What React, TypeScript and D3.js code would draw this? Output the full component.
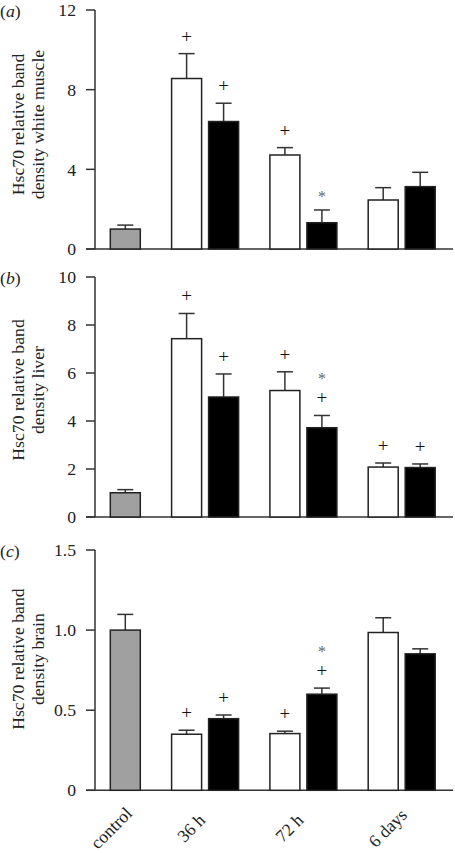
import React from "react";
import * as d3 from "d3";

// ---------- data ----------
const groups = ["control", "36 h", "72 h", "6 days"];
const barGroup = [0, 1, 1, 2, 2, 3, 3];
const barKind = ["control", "white", "black", "white", "black", "white", "black"];

const muscleValues = [1.0, 8.56, 6.4, 4.72, 1.32, 2.46, 3.13];
const muscleErrors = [0.2, 1.25, 0.92, 0.37, 0.64, 0.62, 0.72];
const muscleMarks = ["", "+", "+", "+", "*", "", ""];
const muscleTicks = [0, 4, 8, 12];

const liverValues = [1.01, 7.43, 5.0, 5.27, 3.72, 2.08, 2.06];
const liverErrors = [0.13, 1.05, 0.96, 0.78, 0.51, 0.17, 0.15];
const liverMarks = ["", "+", "+", "+", "+*", "+", "+"];
const liverTicks = [0, 2, 4, 6, 8, 10];

const brainValues = [1.0, 0.35, 0.447, 0.354, 0.6, 0.985, 0.852];
const brainErrors = [0.098, 0.025, 0.023, 0.015, 0.038, 0.092, 0.031];
const brainMarks = ["", "+", "+", "+", "+*", "", ""];
const brainTicks = [0, 0.5, 1.0, 1.5];
const brainTickLabels = ["0", "0.5", "1.0", "1.5"];

// ---------- layout ----------
const W = 455;
const H = 853;
const FONT = "'Liberation Serif', 'Times New Roman', Times, serif";
const FS = 17.7;
const AXIS_X = 95;
const BASE_RIGHT = 453;
const BAR_W = 30;
const PAIR_GAP = 7;
const GROUP_GAP = 31.3;
const FIRST_BAR = 110.3;

const barLefts: number[] = (() => {
  const out: number[] = [];
  let pos = 0;
  for (let i = 0; i < barGroup.length; i++) {
    if (i > 0) {
      pos += barGroup[i] === barGroup[i - 1] ? PAIR_GAP : GROUP_GAP;
    }
    out.push(pos);
    pos += BAR_W;
  }
  return out;
})();
const totalUnits = barLefts[barLefts.length - 1] + BAR_W;
const xScale = d3.scaleLinear().domain([0, totalUnits]).range([FIRST_BAR, FIRST_BAR + totalUnits]);

const groupCenter = (g: number) => {
  const idx = barGroup.map((bg, i) => (bg === g ? i : -1)).filter((i) => i >= 0);
  const l = xScale(barLefts[idx[0]]);
  const r = xScale(barLefts[idx[idx.length - 1]] + BAR_W);
  return (l + r) / 2;
};

const fillFor = (k: string) => (k === "control" ? "#a0a0a0" : k === "white" ? "#ffffff" : "#000000");

type PanelProps = {
  letter: string;
  top: number;
  bottom: number;
  max: number;
  ticks: number[];
  tickLabels: string[];
  values: number[];
  errors: number[];
  marks: string[];
  ylabel: string[];
  labelShift: number;
};

function Panel(p: PanelProps) {
  const y = d3.scaleLinear().domain([0, p.max]).range([p.bottom, p.top]);
  const cy = (p.top + p.bottom) / 2 - p.labelShift;
  return (
    <g>
      <text x={0} y={p.top + 7} fontFamily={FONT} fontSize={FS} fill="#222">
        (<tspan fontStyle="italic">{p.letter}</tspan>)
      </text>
      {p.ylabel.map((t, i) => (
        <text
          key={i}
          x={24 + i * 20}
          y={cy}
          transform={`rotate(-90 ${24 + i * 20} ${cy})`}
          textAnchor="middle"
          fontFamily={FONT}
          fontSize={FS}
          fill="#222"
        >
          {t}
        </text>
      ))}
      <line x1={AXIS_X} x2={AXIS_X} y1={y(p.max)} y2={y(0)} stroke="#333" strokeWidth={1.5} />
      <line x1={AXIS_X - 9} x2={BASE_RIGHT} y1={y(0)} y2={y(0)} stroke="#333" strokeWidth={1.5} />
      {p.ticks.map((t, i) => (
        <g key={i}>
          <line x1={AXIS_X - 9} x2={AXIS_X} y1={y(t)} y2={y(t)} stroke="#333" strokeWidth={1.5} />
          <text
            x={AXIS_X - 19}
            y={y(t)}
            dy="0.35em"
            textAnchor="end"
            fontFamily={FONT}
            fontSize={FS}
            fill="#222"
          >
            {p.tickLabels[i]}
          </text>
        </g>
      ))}
      {p.values.map((v, i) => {
        const x0 = xScale(barLefts[i]);
        const x1 = xScale(barLefts[i] + BAR_W);
        const cx = (x0 + x1) / 2;
        const top = y(v);
        const et = y(v + p.errors[i]);
        const marks = p.marks[i].split("").filter((c) => c);
        return (
          <g key={i}>
            <line x1={cx} x2={cx} y1={top} y2={et} stroke="#333" strokeWidth={1.5} />
            <line x1={cx - 8} x2={cx + 8} y1={et} y2={et} stroke="#333" strokeWidth={1.5} />
            <rect
              x={x0}
              y={top}
              width={x1 - x0}
              height={y(0) - top}
              fill={fillFor(barKind[i])}
              stroke="#222"
              strokeWidth={1.5}
            />
            {marks.map((m, j) => {
              const center = et - 17 - j * 23;
              const isStar = m === "*";
              return (
                <text
                  key={j}
                  x={cx}
                  y={center + (isStar ? 9 : 6)}
                  textAnchor="middle"
                  fontFamily={FONT}
                  fontSize={isStar ? 16 : 19}
                  fill={isStar ? "#666" : "#111"}
                >
                  {m}
                </text>
              );
            })}
          </g>
        );
      })}
    </g>
  );
}

export default function App() {
  const fmt = (t: number) => String(t);
  const labelY = 828;
  const c = Math.SQRT1_2;
  return (
    <svg
      width={W}
      height={H}
      style={{ position: "absolute", left: 0, top: 0, background: "#fff" }}
    >
      <rect x={0} y={0} width={W} height={H} fill="#fff" />
      <Panel
        letter="a"
        top={10}
        bottom={249}
        max={12}
        ticks={muscleTicks}
        tickLabels={muscleTicks.map(fmt)}
        values={muscleValues}
        errors={muscleErrors}
        marks={muscleMarks}
        ylabel={["Hsc70 relative band", "density white muscle"]}
        labelShift={5}
      />
      <Panel
        letter="b"
        top={277}
        bottom={517}
        max={10}
        ticks={liverTicks}
        tickLabels={liverTicks.map(fmt)}
        values={liverValues}
        errors={liverErrors}
        marks={liverMarks}
        ylabel={["Hsc70 relative band", "density liver"]}
        labelShift={7}
      />
      <Panel
        letter="c"
        top={550}
        bottom={790.3}
        max={1.5}
        ticks={brainTicks}
        tickLabels={brainTickLabels}
        values={brainValues}
        errors={brainErrors}
        marks={brainMarks}
        ylabel={["Hsc70 relative band", "density brain"]}
        labelShift={11}
      />
      {groups.map((g, i) => {
        const lx = groupCenter(i) - 14;
        return (
          <g key={g} transform={`matrix(${c} ${-c} ${c} ${c} ${lx} ${labelY})`}>
            <text x={0} y={6} textAnchor="middle" fontFamily={FONT} fontSize={FS} fill="#222">
              {g}
            </text>
          </g>
        );
      })}
    </svg>
  );
}
